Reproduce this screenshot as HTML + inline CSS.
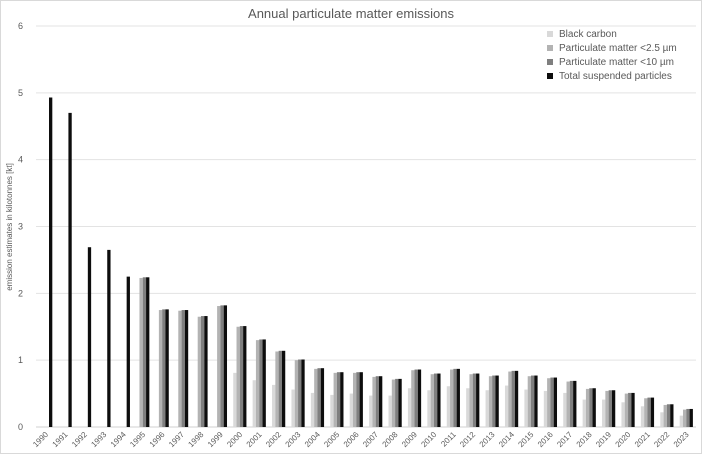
<!DOCTYPE html>
<html><head><meta charset="utf-8"><style>
body{margin:0;background:#fff;font-family:"Liberation Sans",sans-serif}
#wrap{position:relative;width:702px;height:454px;border:1px solid #d9d9d9;box-sizing:border-box}
</style></head><body>
<div id="wrap">
<svg id="chart" width="700" height="452"></svg>
</div>
<script>
const years=[1990,1991,1992,1993,1994,1995,1996,1997,1998,1999,2000,2001,2002,2003,2004,2005,2006,2007,2008,2009,2010,2011,2012,2013,2014,2015,2016,2017,2018,2019,2020,2021,2022,2023];
const tsp=[4.93,4.70,2.69,2.65,2.25,2.24,1.76,1.75,1.66,1.82,1.51,1.31,1.14,1.01,0.88,0.82,0.82,0.76,0.72,0.86,0.80,0.87,0.80,0.77,0.84,0.77,0.74,0.69,0.58,0.55,0.51,0.44,0.34,0.27];
const pm10=[0,0,0,0,0,2.24,1.76,1.75,1.66,1.82,1.51,1.31,1.14,1.01,0.88,0.82,0.82,0.76,0.72,0.86,0.80,0.87,0.80,0.77,0.84,0.77,0.74,0.69,0.58,0.55,0.51,0.44,0.34,0.27];
const pm25=[0,0,0,0,0,2.23,1.75,1.74,1.65,1.81,1.50,1.30,1.13,1.00,0.87,0.81,0.81,0.75,0.71,0.85,0.79,0.86,0.79,0.76,0.83,0.76,0.73,0.68,0.57,0.54,0.50,0.43,0.33,0.26];
const bc=[0,0,0,0,0,0,0,0,0,0,0.81,0.70,0.63,0.56,0.51,0.48,0.50,0.47,0.47,0.58,0.55,0.61,0.58,0.55,0.62,0.56,0.54,0.51,0.41,0.41,0.37,0.31,0.22,0.17];
const yTicks=[0,1,2,3,4,5,6];
const seriesNames=["Black carbon","Particulate matter <2.5 µm","Particulate matter <10 µm","Total suspended particles"];
const colors=["#d9d9d9","#b3b3b3","#7f7f7f","#0d0d0d"];
const svg=document.getElementById('chart');const NS='http://www.w3.org/2000/svg';
const L=35,R=695,T=25,B=426,yMax=6;
const step=(R-L)/years.length;
const y=v=>B-(v/yMax)*(B-T);
const xc=i=>L+step*(i+0.5);
function mk(t,a){const e=document.createElementNS(NS,t);for(const k in a)e.setAttribute(k,a[k]);svg.appendChild(e);return e;}
let t=mk('text',{x:350,y:17,'text-anchor':'middle','font-size':13,fill:'#595959'});t.textContent='Annual particulate matter emissions';

yTicks.forEach(v=>{const g=mk('line',{x1:L,x2:R,y1:y(v),y2:y(v),stroke:v===0?'#d0d0d0':'#e3e3e3','stroke-width':1});

const l=mk('text',{x:22,y:y(v)+3,'text-anchor':'end','font-size':9,fill:'#595959'});l.textContent=v;
});
t=mk('text',{x:0,y:0,transform:'translate(11,226) rotate(-90)','text-anchor':'middle','font-size':8,fill:'#595959'});t.textContent='emission estimates in kilotonnes [kt]';

const series=[bc,pm25,pm10,tsp];const bw=3.3;
years.forEach((yr,i)=>{
 series.forEach((s,k)=>{const v=s[i];if(!v)return;const x=xc(i)-2*bw+k*bw;
  const r=mk('rect',{x:x,y:y(v),width:bw,height:B-y(v),fill:colors[k]});
  });
 const l=mk('text',{x:0,y:0,transform:'translate('+(xc(i)+3)+','+(B+8)+') rotate(-45)','text-anchor':'end','font-size':8,fill:'#595959'});l.textContent=yr;
 
});
seriesNames.forEach((n,k)=>{const yy=36+k*14;
 const r=mk('rect',{x:546,y:yy-6,width:6,height:6,fill:colors[k]});
 const l=mk('text',{x:558,y:yy,'font-size':10,fill:'#595959'});l.textContent=n;});
</script>
</body></html>
